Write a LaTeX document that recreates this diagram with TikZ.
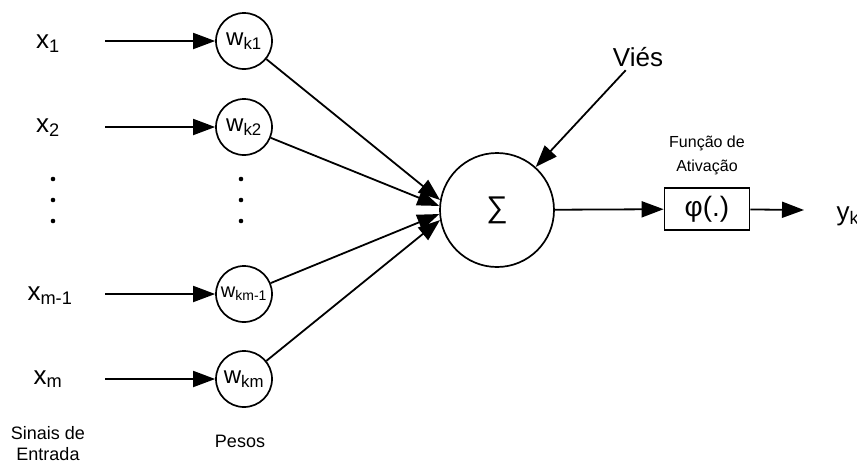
\documentclass[tikz,border=0pt]{standalone}
\usepackage{fontspec}
\setmainfont{Liberation Sans}
\usetikzlibrary{arrows.meta}

\begin{document}
\begin{tikzpicture}[x=1pt,y=-1pt,>={Triangle[length=22pt,width=16pt]},
peso/.style={circle,draw,line width=1.7pt,minimum size=56pt,inner sep=0pt,font=\fontsize{24}{26}\selectfont},
seta/.style={->,line width=1.8pt},
rotulo/.style={font=\fontsize{26}{28}\selectfont},
legenda/.style={font=\fontsize{18}{21}\selectfont,align=center}]
\useasboundingbox(0,0)rectangle(857,464);
% entradas e pesos
\node[rotulo](x1)at(48,44){x\textsubscript{1}};
\node[rotulo](x2)at(48,128){x\textsubscript{2}};
\node[rotulo](xm1)at(50,296){x\textsubscript{m-1}};
\node[rotulo](xm)at(48,379){x\textsubscript{m}};
\node[peso](w1)at(244,41){w\textsubscript{k1}};
\node[peso](w2)at(244,127){w\textsubscript{k2}};
\node[peso,font=\fontsize{20}{22}\selectfont](wm1)at(244,294){w\textsubscript{km-1}};
\node[peso](wm)at(244,379){w\textsubscript{km}};
\coordinate(a1)at(105,41);
\coordinate(a2)at(105,127);
\coordinate(am1)at(105,294);
\coordinate(am)at(105,379);
\draw[seta](a1)--(w1);
\draw[seta](a2)--(w2);
\draw[seta](am1)--(wm1);
\draw[seta](am)--(wm);
\foreach \y in {179,200,221}{
\fill(53,\y)circle(2.3);
\fill(241,\y)circle(2.3);}
% somador
\node[circle,draw,line width=1.7pt,minimum size=114pt,font=\fontsize{30}{32}\selectfont](soma)at(497,210){∑};
\draw[seta](w1)--(soma.170);
\draw[seta](w2)--(soma.176);
\draw[seta](wm1)--(soma.184);
\draw[seta](wm)--(soma.190);
\node[rotulo](vies)at(638,57){Viés};
\draw[seta](vies)--(soma.48);
% ativacao
\node[draw,line width=1.7pt,minimum width=85pt,minimum height=42pt,inner sep=0pt,font=\fontsize{28}{30}\selectfont](fi)at(707,209){φ(.)};
\node[font=\fontsize{16}{24}\selectfont,align=center](ativ)at(707,155){Função de\\Ativação};
\draw[seta](soma)--(fi);
\node[rotulo,anchor=west](yk)at(833,216){y\textsubscript{k}};
\coordinate(s)at(804,210);
\draw[seta](fi)--(s);
\node[legenda](sinais)at(48,444){Sinais de\\Entrada};
\node[legenda](pesos)at(240,441){Pesos};
\end{tikzpicture}
\end{document}
